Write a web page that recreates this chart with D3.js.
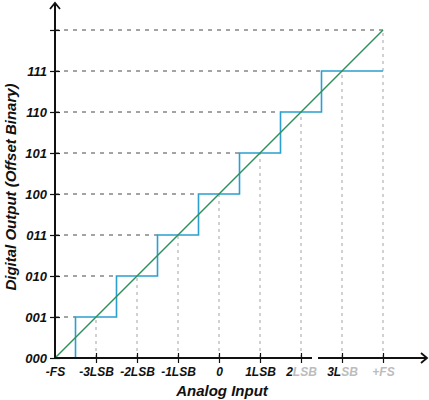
<!DOCTYPE html>
<html>
<head>
<meta charset="utf-8">
<script src="https://cdn.jsdelivr.net/npm/d3@7"></script>
<style>
  body { margin: 0; background: #fff; }
  text { font-family: "Liberation Sans", Arial, sans-serif; font-style: italic; font-weight: bold; }
</style>
</head>
<body>
<svg id="chart" width="429" height="400"></svg>
<script>
// analog input ticks, in LSB from zero
const xTicks = [-4, -3, -2, -1, 0, 1, 2, 3, 4];
const xLabels = ["-FS", "-3LSB", "-2LSB", "-1LSB", "0", "1LSB", "2LSB", "3LSB", "+FS"];
// output codes
const codes = [0, 1, 2, 3, 4, 5, 6, 7];
const codeLabels = ["000", "001", "010", "011", "100", "101", "110", "111"];
// transition points of the staircase (input where each code starts / ends)
const stepStart = [-4, -3.5, -2.5, -1.5, -0.5, 0.5, 1.5, 2.5];
const stepEnd = [-3.5, -2.5, -1.5, -0.5, 0.5, 1.5, 2.5, 4];
// ideal transfer line
const ideal = [[-4, 0], [4, 8]];

const svg = d3.select("#chart");
const x = d3.scaleLinear().domain([-4, 4]).range([55, 383]);
const y = d3.scaleLinear().domain([0, 8]).range([358, 30]);

const grid = svg.append("g")
  .attr("stroke", "#333").attr("stroke-width", 0.9).attr("stroke-dasharray", "4,5");

// horizontal dashes from the axis to where each step starts
grid.selectAll(".h").data(codes.slice(1)).enter().append("line")
  .attr("x1", x(-4)).attr("x2", d => x(stepStart[d]))
  .attr("y1", d => y(d)).attr("y2", d => y(d));
grid.append("line")
  .attr("x1", x(-4)).attr("x2", x(4)).attr("y1", y(8)).attr("y2", y(8));

// vertical dashes from each tick up to the ideal line
grid.selectAll(".v").data(xTicks.slice(1)).enter().append("line")
  .attr("stroke", "#999")
  .attr("stroke-dasharray", "3,4")
  .attr("x1", d => x(d)).attr("x2", d => x(d))
  .attr("y1", y(0)).attr("y2", d => y(d + 4));

// staircase
const stairs = [];
codes.forEach((c, i) => {
  stairs.push([stepStart[i], c]);
  stairs.push([stepEnd[i], c]);
});
svg.append("path")
  .datum(stairs)
  .attr("fill", "none")
  .attr("stroke", "#2a9fd0")
  .attr("stroke-width", 1.6)
  .attr("d", d3.line().x(d => x(d[0])).y(d => y(d[1])));

svg.append("path")
  .datum(ideal)
  .attr("fill", "none")
  .attr("stroke", "#2e8f5a")
  .attr("stroke-width", 1.4)
  .attr("d", d3.line().x(d => x(d[0])).y(d => y(d[1])));

// axes
const yAxis = d3.axisLeft(y).tickValues([...codes, 8])
  .tickFormat(d => codeLabels[d] || "").tickSizeInner(0).tickSizeOuter(0).tickPadding(8);
const gy = svg.append("g").attr("transform", `translate(${x(-4)},0)`).call(yAxis);
gy.select(".domain").remove();
gy.selectAll(".tick text").attr("font-size", 13).attr("fill", "#111")
  .style("font-family", "Liberation Sans").attr("dy", "0.35em");
gy.selectAll(".tick").append("line").attr("x1", -5).attr("x2", 5).attr("stroke", "#111").attr("stroke-width", 1.2);

const xAxis = d3.axisBottom(x).tickValues(xTicks)
  .tickFormat("").tickSizeInner(0).tickSizeOuter(0);
const gx = svg.append("g").attr("transform", `translate(0,${y(0)})`).call(xAxis);
gx.select(".domain").remove();
gx.selectAll(".tick").filter(d => d > -4).append("line").attr("y1", -5).attr("y2", 5).attr("stroke", "#111").attr("stroke-width", 1.2);

// tick labels; the right-most ones are faded in the source picture
const fade = { "2LSB": 1, "3LSB": 2, "+FS": 0 };
gx.selectAll(".tick").each(function (d, i) {
  const label = xLabels[i];
  const t = d3.select(this).select("text")
    .attr("y", 9).attr("dy", "0.75em").attr("font-size", 12).attr("fill", "#111");
  const cut = fade[label];
  if (cut === undefined) { t.text(label); return; }
  t.text(null);
  t.append("tspan").text(label.slice(0, cut));
  t.append("tspan").attr("fill", "#bcbcbc").text(label.slice(cut));
});

// axis lines with arrows
svg.append("path")
  .attr("d", `M${x(-4)},${y(0)}H427 M${x(-4)},${y(0)}V3`)
  .attr("stroke", "#111").attr("stroke-width", 2).attr("fill", "none");
svg.append("rect").attr("x", 312).attr("y", y(0) - 2).attr("width", 6).attr("height", 4).attr("fill", "#fff");
svg.append("path")
  .attr("d", `M50,9 L${x(-4)},3 L60,9 M421,${y(0) - 5} L427,${y(0)} L421,${y(0) + 5}`)
  .attr("stroke", "#111").attr("stroke-width", 1.8).attr("fill", "none");

svg.append("text").attr("x", 222).attr("y", 396).attr("text-anchor", "middle")
  .attr("font-size", 15).attr("fill", "#111").text("Analog Input");
svg.append("text").attr("transform", "translate(16,187) rotate(-90)").attr("text-anchor", "middle")
  .attr("font-size", 15).attr("fill", "#111").text("Digital Output (Offset Binary)");
</script>
</body>
</html>
